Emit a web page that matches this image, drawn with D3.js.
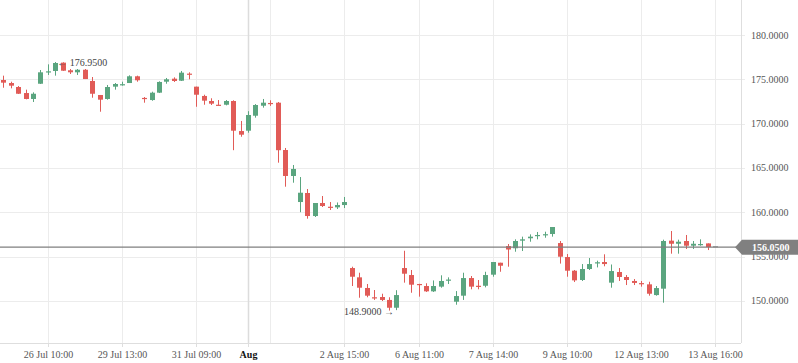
<!DOCTYPE html>
<html><head><meta charset="utf-8">
<script src="https://cdn.jsdelivr.net/npm/d3@7"></script>
<style>html,body{margin:0;padding:0;background:#fff;overflow:hidden}svg{display:block}</style>
</head><body>
<svg id="c" width="798" height="363"></svg>
<script>
const opens  = [174.92,174.58,174.13,173.45,172.78,174.50,175.85,175.94,176.88,176.02,175.79,176.08,174.81,173.23,172.78,174.17,174.40,174.58,175.34,172.90,172.66,173.49,174.73,175.07,174.84,175.64,174.17,173.12,172.55,172.13,172.13,172.55,169.16,169.20,170.89,172.02,172.33,172.36,167.02,164.09,161.15,162.17,159.57,161.04,160.62,160.55,160.81,153.70,152.65,151.45,150.40,150.43,150.10,149.22,153.70,152.91,151.90,151.67,151.07,151.60,152.33,149.90,150.58,152.57,151.70,151.70,152.95,154.30,156.18,155.93,156.79,157.06,157.36,157.45,157.54,156.52,154.94,153.40,152.35,153.59,154.26,154.38,152.05,153.25,152.69,152.24,152.00,151.86,150.65,151.37,156.79,156.44,156.75,156.22,156.37,156.48,156.05];
const highs  = [175.41,174.73,174.24,173.83,173.53,176.05,176.69,176.95,176.92,176.16,176.16,176.16,175.26,173.23,174.36,174.58,174.73,175.45,175.41,173.00,173.60,174.77,175.15,175.22,175.94,175.79,174.17,173.26,172.86,172.66,172.66,172.63,170.30,171.40,172.20,172.78,172.63,172.44,167.25,165.33,163.97,162.62,161.04,161.83,161.15,161.10,161.72,153.85,153.17,151.90,151.22,150.80,150.40,151.20,155.65,153.48,151.92,151.98,152.30,152.88,152.65,151.10,153.17,152.80,152.35,153.28,154.38,154.30,156.41,156.94,157.24,157.50,157.77,157.80,158.33,156.75,155.28,153.48,154.15,154.83,154.53,155.25,154.10,153.70,152.91,152.46,152.24,152.15,151.67,156.90,157.88,156.90,157.43,156.75,156.94,156.48,156.05];
const lows   = [174.05,173.98,173.34,172.74,172.44,174.47,175.49,175.41,175.95,175.60,175.49,175.03,172.92,171.34,172.70,173.83,174.28,174.58,174.73,172.36,172.58,173.45,174.50,174.70,174.81,175.00,171.90,172.13,172.10,172.06,172.06,167.00,168.52,168.97,170.67,171.80,172.00,165.59,162.88,163.33,160.00,159.27,159.46,160.59,160.25,160.36,160.47,151.67,150.35,150.40,150.10,149.98,148.90,148.95,152.05,150.91,150.47,151.00,151.00,151.48,151.90,149.56,150.10,151.30,151.30,151.52,152.72,153.28,153.85,155.54,155.62,156.67,156.94,157.12,157.24,154.20,152.72,152.12,152.24,153.48,153.77,153.90,151.48,152.24,151.78,151.78,151.60,150.58,150.58,149.79,155.32,155.32,155.85,155.85,156.22,155.73,156.05];
const closes = [174.62,174.28,173.37,172.78,173.37,175.79,175.90,176.84,175.97,175.79,176.08,175.03,173.37,172.70,174.13,174.47,174.45,175.34,174.89,172.80,173.49,174.70,175.00,174.81,175.75,175.55,173.26,172.59,172.25,172.08,172.55,169.20,168.75,170.97,172.10,172.36,172.28,167.00,164.09,164.88,162.20,159.57,161.04,160.70,160.55,160.81,161.15,152.72,151.48,150.58,150.35,150.10,149.22,150.65,153.06,151.82,151.82,151.07,151.67,152.24,152.40,150.54,152.57,151.60,151.63,152.91,154.38,153.96,155.79,156.75,156.94,157.24,157.43,157.52,158.33,154.98,153.40,152.31,153.59,154.15,154.35,154.15,153.36,152.69,152.35,152.02,151.94,150.80,151.44,156.75,156.44,156.67,156.22,156.44,156.41,156.07,156.05];

const tickIndex  = [6, 16, 26, 33, 36, 46, 56, 66, 76, 86, 96];
const tickLabels = ["26 Jul 10:00","29 Jul 13:00","31 Jul 09:00","Aug","","2 Aug 15:00","6 Aug 11:00","7 Aug 14:00","9 Aug 10:00","12 Aug 13:00","13 Aug 16:00"];
const yTicks = [150,155,160,165,170,175,180];
const lastPrice = 156.05;
const maxLabel = {i:7, v:176.95, text:"176.9500"};
const minLabel = {i:52, v:148.90, text:"148.9000"};

const svg = d3.select("#c");
const plotR = 741, plotB = 343;
const x = d3.scaleLinear().domain([0, 96]).range([3.3, 715.3]);
const y = d3.scaleLinear().domain([145.24, 183.95]).range([plotB, 0]);
const fmt = d3.format(".4f");
const font = "'Liberation Serif', 'Times New Roman', serif";
const GREEN = "#5aa57f", RED = "#e15b57", GRAY = "#9a9a9a";

// horizontal grid
svg.append("g").selectAll("line").data(yTicks).join("line")
  .attr("x1", 0).attr("x2", plotR + 4)
  .attr("y1", d => Math.round(y(d)) + 0.5).attr("y2", d => Math.round(y(d)) + 0.5)
  .attr("stroke", "#ececec").attr("stroke-width", 1);

// vertical grid
svg.append("g").selectAll("line").data(tickIndex).join("line")
  .attr("x1", (d,i) => Math.round(x(d)) + 0.5).attr("x2", (d,i) => Math.round(x(d)) + 0.5)
  .attr("y1", 0).attr("y2", plotB)
  .attr("stroke", (d,i) => tickLabels[i] === "Aug" ? "#dcdcdc" : "#ececec")
  .attr("stroke-width", (d,i) => tickLabels[i] === "Aug" ? 1.5 : 1);

// axes lines
svg.append("line").attr("x1", plotR + 0.5).attr("x2", plotR + 0.5).attr("y1", 0).attr("y2", plotB)
  .attr("stroke", "#dedede");
svg.append("line").attr("x1", 0).attr("x2", plotR).attr("y1", plotB + 0.5).attr("y2", plotB + 0.5)
  .attr("stroke", "#dedede");

// x ticks & labels
const xt = svg.append("g");
tickIndex.forEach((d, i) => {
  if (!tickLabels[i]) return;
  const px = Math.round(x(d)) + 0.5;
  xt.append("line").attr("x1", px).attr("x2", px).attr("y1", plotB).attr("y2", plotB + 4).attr("stroke", "#dedede");
  xt.append("text").attr("x", px).attr("y", 358).attr("text-anchor", "middle")
    .attr("font-family", font).attr("font-size", 10)
    .attr("font-weight", tickLabels[i] === "Aug" ? "bold" : "normal")
    .attr("fill", tickLabels[i] === "Aug" ? "#111" : "#555").text(tickLabels[i]);
});

// y labels
svg.append("g").selectAll("text").data(yTicks).join("text")
  .attr("x", 751).attr("y", d => y(d) + 3.5)
  .attr("font-family", font).attr("font-size", 10).attr("fill", "#555")
  .text(d => fmt(d));

// candles
const data = opens.map((o, i) => ({i, o, h: highs[i], l: lows[i], c: closes[i]}));
const col = d => d.c > d.o ? GREEN : d.c < d.o ? RED : GRAY;
const cg = svg.append("g");
cg.selectAll("line").data(data).join("line")
  .attr("x1", d => Math.round(x(d.i)) + 0.5).attr("x2", d => Math.round(x(d.i)) + 0.5)
  .attr("y1", d => y(d.h)).attr("y2", d => y(d.l))
  .attr("stroke", col).attr("stroke-width", 1);
cg.selectAll("rect").data(data).join("rect")
  .attr("x", d => Math.round(x(d.i)) - 2).attr("width", 5)
  .attr("y", d => d.h === d.l ? y(d.o) - 1 : y(Math.max(d.o, d.c)))
  .attr("height", d => Math.max(1.2, Math.abs(y(d.o) - y(d.c))))
  .attr("fill", col);

// last price line
svg.append("line").attr("x1", 0).attr("x2", plotR).attr("y1", y(lastPrice)).attr("y2", y(lastPrice))
  .attr("stroke", "#7f7f7f").attr("stroke-width", 1.3);
const ty = y(lastPrice);
svg.append("path")
  .attr("d", `M735,${ty} L742,${ty-7.5} L798,${ty-7.5} L798,${ty+7.5} L742,${ty+7.5} Z`)
  .attr("fill", "#808080");
svg.append("text").attr("x", 752).attr("y", ty + 3.5)
  .attr("font-family", font).attr("font-size", 10).attr("font-weight", "bold").attr("fill", "#fff")
  .text(fmt(lastPrice));

// max / min labels
svg.append("text").attr("x", x(maxLabel.i) + 2).attr("y", y(maxLabel.v) + 3.5)
  .attr("font-family", font).attr("font-size", 10).attr("fill", "#444")
  .text("\u2190 " + maxLabel.text);
svg.append("text").attr("x", x(minLabel.i) + 5).attr("y", y(minLabel.v) + 4)
  .attr("text-anchor", "end")
  .attr("font-family", font).attr("font-size", 10).attr("fill", "#444")
  .text(minLabel.text + " \u2192");
</script>
</body></html>
